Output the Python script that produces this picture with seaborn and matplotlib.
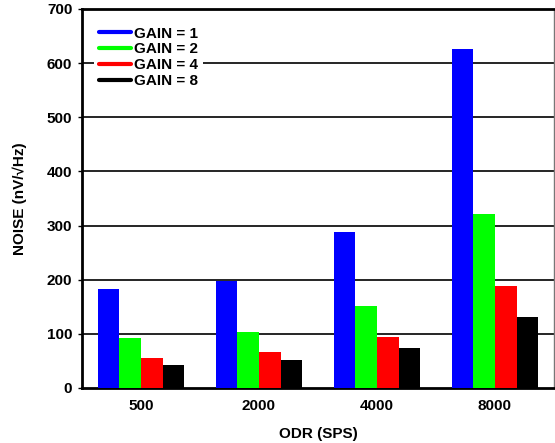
import pandas as pd
import seaborn as sns
import matplotlib.pyplot as plt
from matplotlib.lines import Line2D

odr = ['500', '2000', '4000', '8000']
gains = ['GAIN = 1', 'GAIN = 2', 'GAIN = 4', 'GAIN = 8']
gain1 = [182, 197, 288, 626]
gain2 = [92, 103, 152, 321]
gain4 = [56, 67, 94, 188]
gain8 = [43, 52, 73, 132]
colors = ['#0000ff', '#00ff00', '#ff0000', '#000000']

rows = []
for g, vals in zip(gains, [gain1, gain2, gain4, gain8]):
    for o, v in zip(odr, vals):
        rows.append({'odr': o, 'gain': g, 'noise': v})
df = pd.DataFrame(rows)

sns.set_style('white')
plt.rcParams['font.family'] = ['Liberation Sans', 'DejaVu Sans']
plt.rcParams['font.weight'] = 'bold'
plt.rcParams['text.color'] = 'black'
plt.rcParams['axes.labelcolor'] = 'black'
plt.rcParams['xtick.color'] = 'black'
plt.rcParams['ytick.color'] = 'black'

fig = plt.figure(figsize=(5.55, 4.43), dpi=100)
ax = fig.add_axes([0.1477, 0.1242, 0.8505, 0.8555])

sns.barplot(data=df, x='odr', y='noise', hue='gain', order=odr, hue_order=gains,
            palette=colors, width=0.73, saturation=1, ax=ax, legend=False,
            edgecolor='none', zorder=3)

ax.set_ylim(0, 700)
ax.set_xlim(-0.5, 3.5)
ax.set_yticks(range(0, 701, 100))
for y in range(100, 700, 100):
    ax.axhline(y, color='black', lw=1.2, zorder=1)

for s in ['left', 'top', 'bottom']:
    ax.spines[s].set_color('black')
    ax.spines[s].set_linewidth(2)
ax.spines['right'].set_color('#777777')
ax.spines['right'].set_linewidth(1)

ax.tick_params(axis='y', direction='out', length=3, width=1, labelsize=11, pad=4, left=True)
ax.tick_params(axis='x', length=0, labelsize=11, pad=8)
for lbl in ax.get_xticklabels() + ax.get_yticklabels():
    lbl.set_fontweight('bold')

ax.set_xlabel('ODR (SPS)', fontsize=11, fontweight='bold', labelpad=10)
ax.set_ylabel('NOISE (nV/\u221aHz)', fontsize=11, fontweight='bold', labelpad=14)

handles = [Line2D([0], [0], color=c, lw=3) for c in colors]
leg = ax.legend(handles, gains, loc='upper left', bbox_to_anchor=(0.01, 0.986),
                frameon=True, fancybox=False, edgecolor='none', framealpha=1,
                handlelength=2.1, handletextpad=0.2, labelspacing=0.12,
                borderpad=0.3, prop={'weight': 'bold', 'size': 11})
leg.set_zorder(5)

fig.savefig('out.png', dpi=100)
plt.close(fig)
